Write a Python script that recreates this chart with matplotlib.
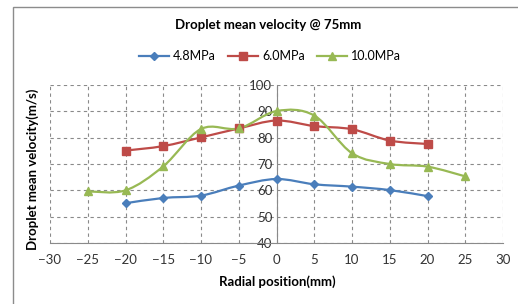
#!/usr/bin/env python

import numpy as np
import matplotlib

matplotlib.use('agg')

import matplotlib.pyplot as plt
from matplotlib.path import Path
from matplotlib.patches import PathPatch, Rectangle
from matplotlib.lines import Line2D

plt.rcParams['font.family'] = ['Lato', 'DejaVu Sans']

x_48 = [-20, -15, -10, -5, 0, 5, 10, 15, 20]
v_48 = [55.1, 57.1, 58.0, 61.8, 64.3, 62.3, 61.4, 60.1, 57.8]

x_60 = [-20, -15, -10, -5, 0, 5, 10, 15, 20]
v_60 = [75.1, 76.8, 80.1, 83.5, 86.5, 84.4, 83.2, 78.9, 77.6]

x_100 = [-25, -20, -15, -10, -5, 0, 5, 10, 15, 20, 25]
v_100 = [59.6, 60.0, 69.1, 83.3, 83.5, 90.1, 88.4, 74.1, 70.0, 69.0, 65.3]

labels = ['4.8MPa', '6.0MPa', '10.0MPa']
colors = ['#4a7ebb', '#be4b48', '#98b954']
markers = ['D', 's', '^']
msizes = [4, 5.5, 5.5]


def smooth_path(xs, ys):
    # Catmull-Rom style bezier, like Excel's smoothed line
    p = np.column_stack([xs, ys]).astype(float)
    n = len(p)
    verts = [p[0]]
    codes = [Path.MOVETO]
    for i in range(n - 1):
        p0 = p[i - 1] if i > 0 else p[i]
        p3 = p[i + 2] if i + 2 < n else p[i + 1]
        c1 = p[i] + (p[i + 1] - p0) / 6.0
        c2 = p[i + 1] - (p3 - p[i]) / 6.0
        verts += [c1, c2, p[i + 1]]
        codes += [Path.CURVE4] * 3
    return Path(verts, codes)


def main():
    fig = plt.figure(figsize=(5.18, 3.04), dpi=100)
    fig.patches.append(Rectangle((13 / 518, -0.1), 1.2, 1 - 7 / 304 + 0.1,
                                 transform=fig.transFigure, fill=False,
                                 edgecolor='#8c8c8c', linewidth=1.0))

    ax = fig.add_axes([50 / 518, 1 - 243 / 304, 453 / 518, 158 / 304])

    series = [(x_48, v_48), (x_60, v_60), (x_100, v_100)]
    handles = []
    for (xs, ys), lab, c, m, ms in zip(series, labels, colors, markers, msizes):
        ax.add_patch(PathPatch(smooth_path(xs, ys), fill=False, edgecolor=c,
                               linewidth=1.6, zorder=3))
        ax.plot(xs, ys, linestyle='none', marker=m, markersize=ms, color=c,
                zorder=4)
        handles.append(Line2D([], [], color=c, linewidth=1.6, marker=m,
                              markersize=ms, label=lab))

    ax.set_xlim(-30, 30)
    ax.set_ylim(40, 100)
    ax.set_xticks(range(-30, 31, 5))
    ax.set_yticks(range(40, 101, 10))
    ax.tick_params(length=0, labelsize=9.5, colors='#333333')
    ax.tick_params(axis='x', pad=8)
    ax.tick_params(axis='y', pad=3)

    ax.grid(True, linestyle=(0, (3, 3)), color='#8a8a8a', linewidth=0.8)
    ax.set_axisbelow(True)
    for s in ['top', 'right']:
        ax.spines[s].set_visible(False)
    ax.spines['left'].set_position(('data', 0))
    ax.spines['left'].set_color('#8a8a8a')
    ax.spines['bottom'].set_color('#8a8a8a')
    ax.spines['left'].set_zorder(2)

    fig.text(268 / 518, 1 - 25 / 304, 'Droplet mean velocity @ 75mm',
             ha='center', va='center', fontsize=9.5, fontweight='bold')
    fig.legend(handles=handles, loc='center', bbox_to_anchor=(270 / 518, 1 - 56 / 304),
               ncol=3, frameon=False, fontsize=9, handlelength=2.4,
               columnspacing=1.0, handletextpad=0.3)
    fig.text(277 / 518, 1 - 282 / 304, 'Radial position(mm)', ha='center',
             va='center', fontsize=9.5, fontweight='bold')
    fig.text(33 / 518, 1 - 169 / 304, 'Droplet mean velocity(m/s)',
             ha='center', va='center', rotation=90, fontsize=9.5,
             fontweight='bold')

    fig.savefig('out.png', dpi=100)


if __name__ == '__main__':
    main()
